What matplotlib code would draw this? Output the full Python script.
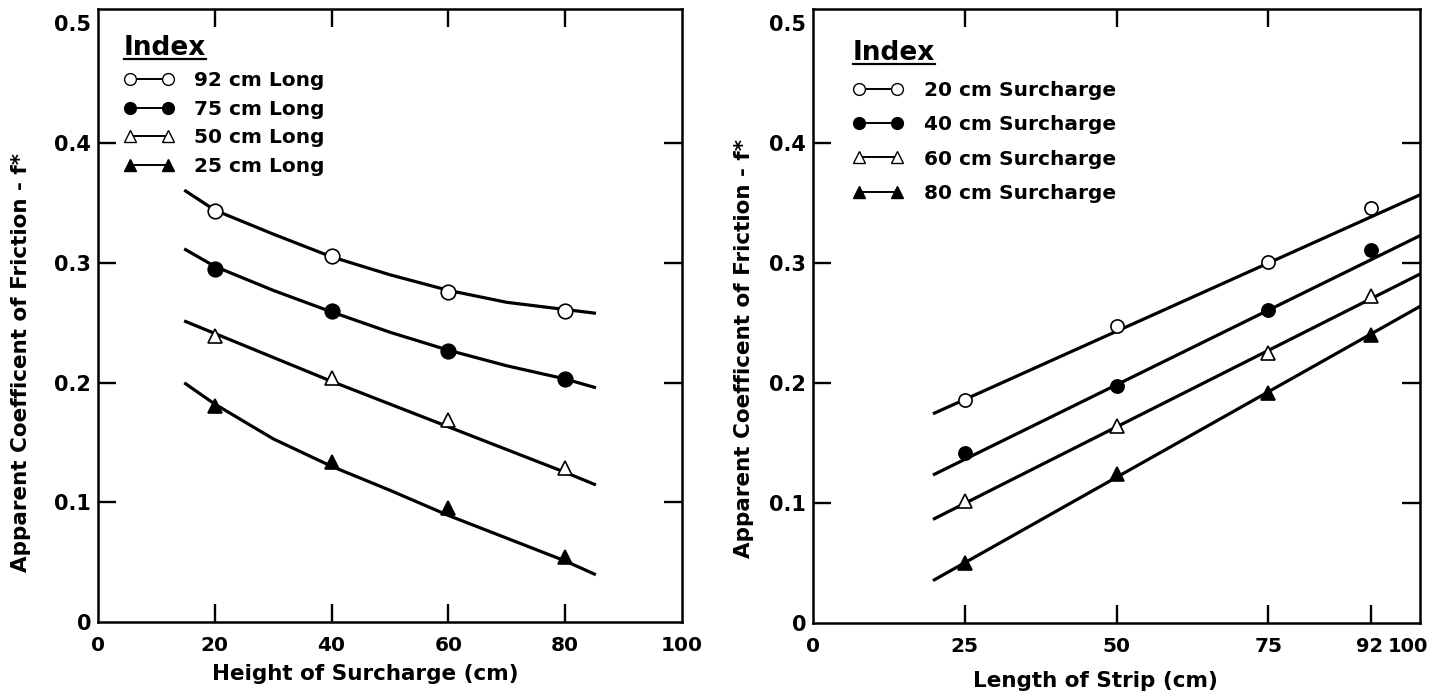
import matplotlib
matplotlib.use("Agg")
import matplotlib.pyplot as plt
import matplotlib.transforms as mtransforms
from matplotlib.lines import Line2D

plt.rcParams['font.family'] = ['DejaVu Sans']
plt.rcParams['font.weight'] = 'bold'

# ---- left panel: f* vs height of surcharge, one series per strip length ----
surcharge = [20, 40, 60, 80]
f_long92 = [0.343, 0.306, 0.276, 0.260]
f_long75 = [0.295, 0.260, 0.226, 0.203]
f_long50 = [0.239, 0.204, 0.169, 0.129]
f_long25 = [0.180, 0.134, 0.095, 0.054]

# fitted curves
curve_x = [15, 20, 30, 40, 50, 60, 70, 80, 85]
curve_long92 = [0.360, 0.344, 0.324, 0.305, 0.290, 0.277, 0.267, 0.261, 0.258]
curve_long75 = [0.311, 0.297, 0.277, 0.259, 0.242, 0.227, 0.214, 0.203, 0.196]
curve_long50 = [0.251, 0.241, 0.221, 0.201, 0.182, 0.163, 0.144, 0.125, 0.115]
curve_long25 = [0.199, 0.182, 0.153, 0.130, 0.110, 0.089, 0.070, 0.051, 0.040]

left_labels = ['92 cm Long', '75 cm Long', '50 cm Long', '25 cm Long']

# ---- right panel: f* vs length of strip, one series per surcharge ----
strip = [25, 50, 75, 92]
f_sur20 = [0.186, 0.248, 0.301, 0.346]
f_sur40 = [0.142, 0.198, 0.261, 0.311]
f_sur60 = [0.102, 0.164, 0.225, 0.273]
f_sur80 = [0.050, 0.124, 0.192, 0.240]

line_x = [20, 100]
line_sur20 = [0.175, 0.357]
line_sur40 = [0.124, 0.323]
line_sur60 = [0.087, 0.291]
line_sur80 = [0.036, 0.264]

right_labels = ['20 cm Surcharge', '40 cm Surcharge', '60 cm Surcharge', '80 cm Surcharge']

# marker style for the 4 series (open circle, filled circle, open tri, filled tri)
styles = [('o', 'white'), ('o', 'black'), ('^', 'white'), ('^', 'black')]

fig = plt.figure(figsize=(14.36, 6.98), dpi=100)
ax1 = fig.add_axes([98 / 1436, 76 / 698, 584 / 1436, 613 / 698])
ax2 = fig.add_axes([813 / 1436, 75 / 698, 607 / 1436, 614 / 698])

left_pts = [f_long92, f_long75, f_long50, f_long25]
left_curves = [curve_long92, curve_long75, curve_long50, curve_long25]
for (mk, fc), pts, cv in zip(styles, left_pts, left_curves):
    ax1.plot(curve_x, cv, color='black', lw=2.3, zorder=2)
    ax1.plot(surcharge, pts, linestyle='none', marker=mk, mfc=fc, mec='black',
             mew=1.2, ms=10.5, zorder=3)

right_pts = [f_sur20, f_sur40, f_sur60, f_sur80]
right_lines = [line_sur20, line_sur40, line_sur60, line_sur80]
for (mk, fc), pts, ln in zip(styles, right_pts, right_lines):
    ax2.plot(line_x, ln, color='black', lw=2.3, zorder=2)
    ax2.plot(strip, pts, linestyle='none', marker=mk, mfc=fc, mec='black',
             mew=1.2, ms=9.5, zorder=3)


def style_axes(ax, xticks, top_ticks):
    ax.set_xlim(0, 100)
    ax.set_ylim(0, 0.512)
    ax.set_xticks(xticks)
    ax.set_xticklabels([str(t) for t in xticks])
    yt = [0, 0.1, 0.2, 0.3, 0.4, 0.5]
    ax.set_yticks(yt)
    ax.set_yticklabels(['0', '0.1', '0.2', '0.3', '0.4', '0.5'])
    for sp in ax.spines.values():
        sp.set_linewidth(1.8)
    ax.tick_params(direction='in', length=13, width=1.7, top=True, right=True)
    ax.tick_params(axis='x', pad=10, labelsize=14.5)
    ax.tick_params(axis='y', pad=5, labelsize=15)
    for t, v in zip(ax.xaxis.get_major_ticks(), xticks):
        if v in (0, 100):
            t.tick1line.set_visible(False)
        if v not in top_ticks:
            t.tick2line.set_visible(False)
    for t, v in zip(ax.yaxis.get_major_ticks(), yt):
        if v in (0, 0.5):
            t.tick1line.set_visible(False)
            t.tick2line.set_visible(False)
    ax.set_ylabel('Apparent Coefficent of Friction - f*', fontsize=15.5,
                  fontweight='bold')


style_axes(ax1, [0, 20, 40, 60, 80, 100], [20, 40, 60, 80])
style_axes(ax2, [0, 25, 50, 75, 92, 100], [25, 50, 75])

ax1.set_xlabel('Height of Surcharge (cm)', fontsize=15.5, fontweight='bold')
ax2.set_xlabel('Length of Strip (cm)', fontsize=15.5, fontweight='bold')
ax1.xaxis.set_label_coords(0.457, -0.068)
ax2.xaxis.set_label_coords(0.465, -0.078)
ax1.yaxis.set_label_coords(-0.115, 0.424)
ax2.yaxis.set_label_coords(-0.098, 0.447)

# the right panel's "92" and "100" sit close together; spread them a little
xl = ax2.get_xticklabels()
xl[-1].set_fontsize(14)
xl[-2].set_fontsize(14)
xl[-1].set_transform(xl[-1].get_transform() +
                     mtransforms.ScaledTranslation(-0.12, 0, fig.dpi_scale_trans))
xl[-2].set_transform(xl[-2].get_transform() +
                     mtransforms.ScaledTranslation(-0.02, 0, fig.dpi_scale_trans))


def make_handles():
    return [Line2D([], [], color='black', lw=1.4, marker=mk, mfc=fc, mec='black',
                   mew=1.0, ms=8.5) for mk, fc in styles]


leg1 = ax1.legend(make_handles(), left_labels, loc='upper left',
                  bbox_to_anchor=(0.034, 0.967), frameon=False, numpoints=2,
                  handlelength=2.5, handletextpad=1.0, labelspacing=0.48,
                  borderpad=0.3, borderaxespad=0, title='Index',
                  title_fontproperties={'weight': 'bold', 'size': 19},
                  alignment='left', prop={'weight': 'bold', 'size': 14.5})
leg2 = ax2.legend(make_handles(), right_labels, loc='upper left',
                  bbox_to_anchor=(0.056, 0.959), frameon=False, numpoints=2,
                  handlelength=2.5, handletextpad=1.0, labelspacing=0.75,
                  borderpad=0.3, borderaxespad=0, title='Index',
                  title_fontproperties={'weight': 'bold', 'size': 19},
                  alignment='left', prop={'weight': 'bold', 'size': 14.5})

# underline the "Index" titles
fig.canvas.draw()
renderer = fig.canvas.get_renderer()
inv = fig.transFigure.inverted()
for leg in (leg1, leg2):
    bb = leg.get_title().get_window_extent(renderer)
    (x0, y0), (x1, _) = inv.transform([(bb.x0, bb.y0 + 2), (bb.x1, bb.y0 + 2)])
    fig.add_artist(Line2D([x0, x1], [y0, y0], color='black', lw=1.6,
                          transform=fig.transFigure))

fig.savefig('out.png', dpi=100)
